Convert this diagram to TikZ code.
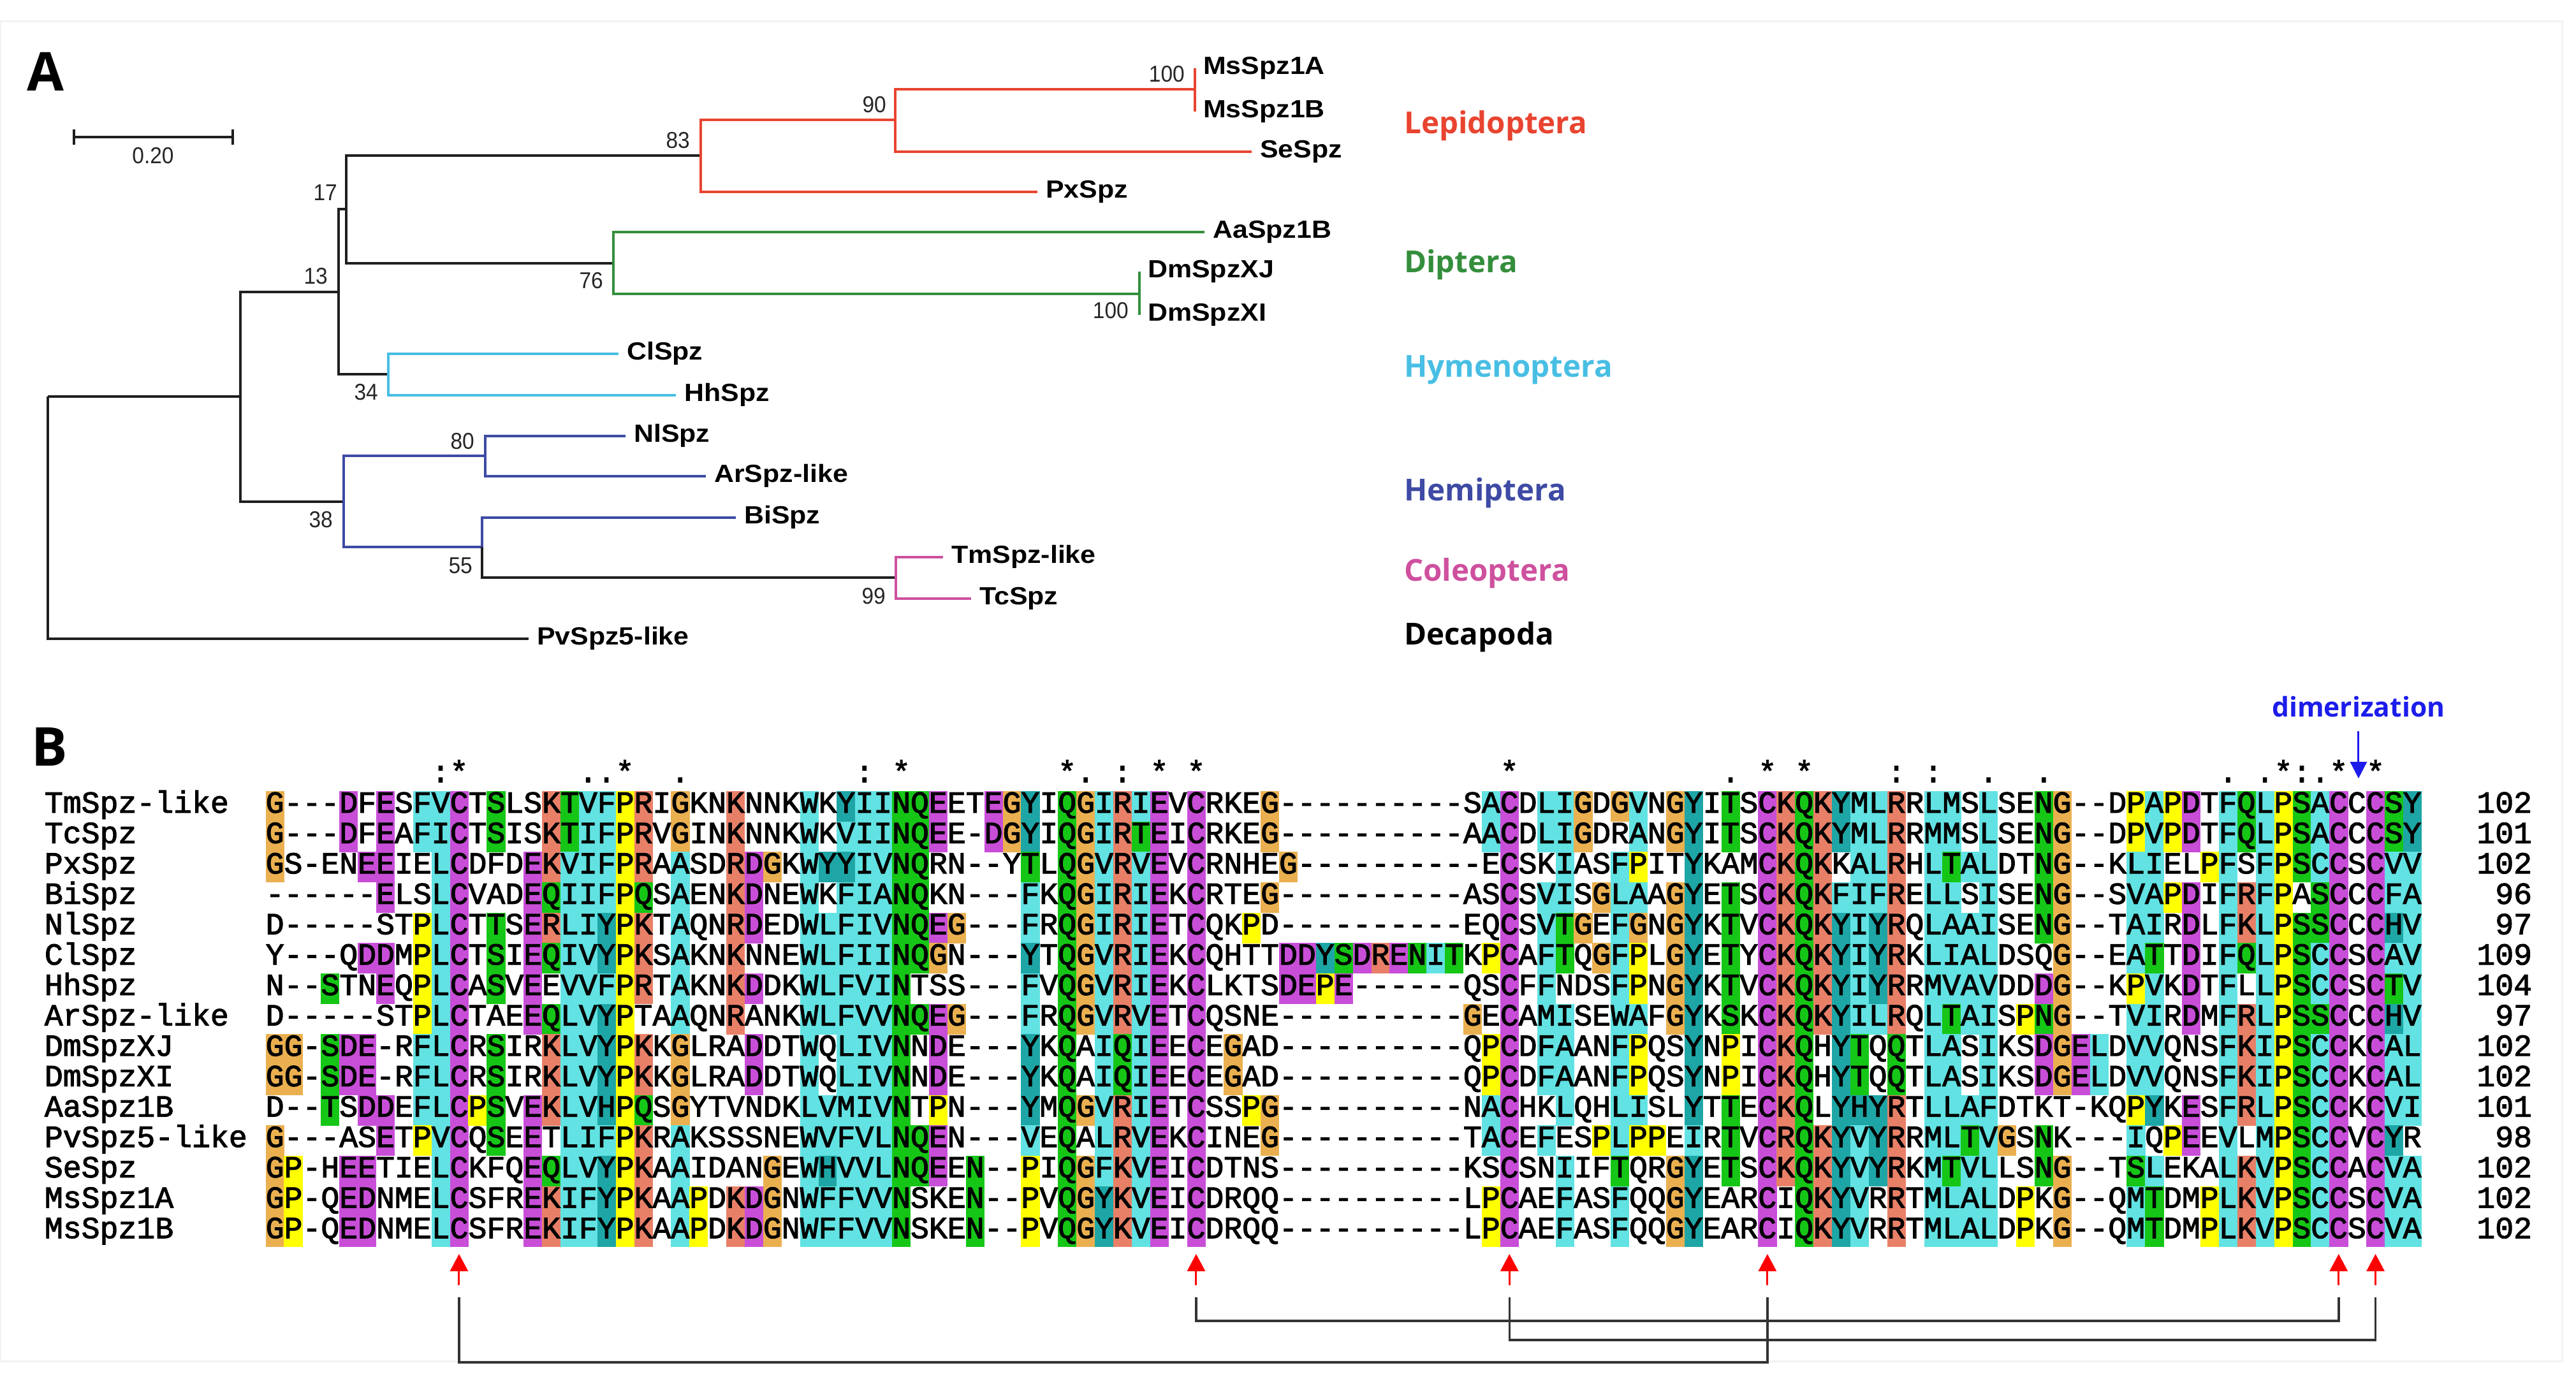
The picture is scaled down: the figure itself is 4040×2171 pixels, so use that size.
\documentclass[tikz,border=0pt]{standalone}
\usepackage{fontspec}
\usetikzlibrary{arrows.meta}
\newfontfamily\alnfont{Liberation Mono}[Ligatures=TeXOff,FakeBold=2.2]
\newfontfamily\leaffont{Liberation Sans}[FakeStretch=1.1]
\newfontfamily\numfont{Liberation Sans}[FakeStretch=0.93]
\newfontfamily\ordfont{Open Sans}

\definecolor{alnblue}{RGB}{98,226,226}
\definecolor{alncyan}{RGB}{30,166,166}
\definecolor{alnred}{RGB}{232,128,104}
\definecolor{alnmag}{RGB}{200,78,216}
\definecolor{alngreen}{RGB}{22,198,22}
\definecolor{alnorange}{RGB}{234,176,80}
\definecolor{alnyellow}{RGB}{255,255,0}
\definecolor{lepc}{RGB}{232,68,48}
\definecolor{dipc}{RGB}{52,142,60}
\definecolor{hymc}{RGB}{72,190,228}
\definecolor{hemc}{RGB}{62,74,164}
\definecolor{colc}{RGB}{206,80,158}
\definecolor{dimblue}{RGB}{28,28,235}

\ExplSyntaxOn
\int_new:N \l__aln_n_int
\tl_new:N \l__aln_ch_tl
\tl_new:N \l__aln_col_tl
\clist_const:Nn \c__aln_letters_clist {A,C,D,E,F,G,H,I,K,L,M,N,P,Q,R,S,T,V,W,Y}
\clist_map_inline:Nn \c__aln_letters_clist { \int_new:c {l__aln_cnt_#1_int} }
\bool_new:N \l__aln_hyd_bool
\bool_new:N \l__aln_cblue_bool
\bool_new:N \l__aln_cpink_bool
\bool_new:N \l__aln_t_bool
\bool_new:N \l__aln_s_bool
\bool_new:N \l__aln_nn_bool
\bool_new:N \l__aln_q_bool
\bool_new:N \l__aln_e_bool
\bool_new:N \l__aln_d_bool
\bool_new:N \l__aln_kr_bool

\tl_const:cn {c__aln_row_1_tl} {G---DFESFVCTSLSKTVFPRIGKNKNNKWKYIINQEETEGYIQGIRIEVCRKEG----------SACDLIGDGVNGYITSCKQKYMLRRLMSLSENG--DPAPDTFQLPSACCCSY}
\tl_const:cn {c__aln_row_2_tl} {G---DFEAFICTSISKTIFPRVGINKNNKWKVIINQEE-DGYIQGIRTEICRKEG----------AACDLIGDRANGYITSCKQKYMLRRMMSLSENG--DPVPDTFQLPSACCCSY}
\tl_const:cn {c__aln_row_3_tl} {GS-ENEEIELCDFDEKVIFPRAASDRDGKWYYIVNQRN--YTLQGVRVEVCRNHEG----------ECSKIASFPITYKAMCKQKKALRHLTALDTNG--KLIELPFSFPSCCSCVV}
\tl_const:cn {c__aln_row_4_tl} {------ELSLCVADEQIIFPQSAENKDNEWKFIANQKN---FKQGIRIEKCRTEG----------ASCSVISGLAAGYETSCKQKFIFRELLSISENG--SVAPDIFRFPASCCCFA}
\tl_const:cn {c__aln_row_5_tl} {D-----STPLCTTSERLIYPKTAQNRDEDWLFIVNQEG---FRQGIRIETCQKPD----------EQCSVTGEFGNGYKTVCKQKYIYRQLAAISENG--TAIRDLFKLPSSCCCHV}
\tl_const:cn {c__aln_row_6_tl} {Y---QDDMPLCTSIEQIVYPKSAKNKNNEWLFIINQGN---YTQGVRIEKCQHTTDDYSDRENITKPCAFTQGFPLGYETYCKQKYIYRKLIALDSQG--EATTDIFQLPSCCSCAV}
\tl_const:cn {c__aln_row_7_tl} {N--STNEQPLCASVEEVVFPRTAKNKDDKWLFVINTSS---FVQGVRIEKCLKTSDEPE------QSCFFNDSFPNGYKTVCKQKYIYRRMVAVDDDG--KPVKDTFLLPSCCSCTV}
\tl_const:cn {c__aln_row_8_tl} {D-----STPLCTAEEQLVYPTAAQNRANKWLFVVNQEG---FRQGVRVETCQSNE----------GECAMISEWAFGYKSKCKQKYILRQLTAISPNG--TVIRDMFRLPSSCCCHV}
\tl_const:cn {c__aln_row_9_tl} {GG-SDE-RFLCRSIRKLVYPKKGLRADDTWQLIVNNDE---YKQAIQIEECEGAD----------QPCDFAANFPQSYNPICKQHYTQQTLASIKSDGELDVVQNSFKIPSCCKCAL}
\tl_const:cn {c__aln_row_10_tl} {GG-SDE-RFLCRSIRKLVYPKKGLRADDTWQLIVNNDE---YKQAIQIEECEGAD----------QPCDFAANFPQSYNPICKQHYTQQTLASIKSDGELDVVQNSFKIPSCCKCAL}
\tl_const:cn {c__aln_row_11_tl} {D--TSDDEFLCPSVEKLVHPQSGYTVNDKLVMIVNTPN---YMQGVRIETCSSPG----------NACHKLQHLISLYTTECKQLYHYRTLLAFDTKT-KQPYKESFRLPSCCKCVI}
\tl_const:cn {c__aln_row_12_tl} {G---ASETPVCQSEETLIFPKRAKSSSNEWVFVLNQEN---VEQALRVEKCINEG----------TACEFESPLPPEIRTVCRQKYVYRRMLTVGSNK---IQPEEVLMPSCCVCYR}
\tl_const:cn {c__aln_row_13_tl} {GP-HEETIELCKFQEQLVYPKAAIDANGEWHVVLNQEEN--PIQGFKVEICDTNS----------KSCSNIIFTQRGYETSCKQKYVYRKMTVLLSNG--TSLEKALKVPSCCACVA}
\tl_const:cn {c__aln_row_14_tl} {GP-QEDNMELCSFREKIFYPKAAPDKDGNWFFVVNSKEN--PVQGYKVEICDRQQ----------LPCAEFASFQQGYEARCIQKYVRRTMLALDPKG--QMTDMPLKVPSCCSCVA}
\tl_const:cn {c__aln_row_15_tl} {GP-QEDNMELCSFREKIFYPKAAPDKDGNWFFVVNSKEN--PVQGYKVEICDRQQ----------LPCAEFASFQQGYEARCIQKYVRRTMLALDPKG--QMTDMPLKVPSCCSCVA}

\cs_new:Npn \AlnRow #1 { \tl_use:c {c__aln_row_#1_tl} }

\cs_new:Npn \__aln_c:n #1 { \int_use:c { l__aln_cnt_#1_int } }
\cs_new:Npn \__aln_g:nn #1#2 { \int_compare_p:n { 100 * ( #1 ) >= #2 * \l__aln_n_int } }
\cs_new:Npn \__aln_x:n #1 { \__aln_g:nn { \__aln_c:n {#1} } {85} }
\cs_new:Npn \__aln_hsum: { \__aln_c:n W + \__aln_c:n L + \__aln_c:n V + \__aln_c:n I + \__aln_c:n M + \__aln_c:n A + \__aln_c:n F + \__aln_c:n C + \__aln_c:n Y + \__aln_c:n H + \__aln_c:n P }
\cs_new_protected:Npn \__aln_if:Nn #1#2 { \bool_if:NT #1 { \tl_set:Nn \l__aln_col_tl {#2} } }

\cs_new_protected:Npn \__aln_column:n #1
 {
  \clist_map_inline:Nn \c__aln_letters_clist { \int_zero:c {l__aln_cnt_##1_int} }
  \int_zero:N \l__aln_n_int
  \int_step_inline:nn {15}
   {
    \tl_set:Nx \l__aln_ch_tl { \tl_item:cn {c__aln_row_##1_tl} {#1} }
    \exp_args:NV \str_if_eq:nnF \l__aln_ch_tl {-}
     {
      \int_incr:c {l__aln_cnt_ \l__aln_ch_tl _int}
      \int_incr:N \l__aln_n_int
     }
   }
  \bool_set:Nn \l__aln_hyd_bool
   { \__aln_g:nn {\__aln_hsum:} {60} || \__aln_x:n A || \__aln_x:n C || \__aln_x:n F || \__aln_x:n H || \__aln_x:n I || \__aln_x:n L || \__aln_x:n M || \__aln_x:n V || \__aln_x:n W || \__aln_x:n Y || \__aln_x:n P || \__aln_g:nn {\__aln_c:n P} {50} }
  \bool_set:Nn \l__aln_cblue_bool
   { \__aln_g:nn {\__aln_hsum:} {60} || \__aln_x:n A || \__aln_x:n S || \__aln_x:n F || \__aln_x:n H || \__aln_x:n I || \__aln_x:n L || \__aln_x:n M || \__aln_x:n V || \__aln_x:n W || \__aln_x:n Y || \__aln_x:n P || \__aln_g:nn {\__aln_c:n P} {50} }
  \bool_set:Nn \l__aln_cpink_bool { \__aln_x:n C }
  \bool_set:Nn \l__aln_t_bool
   { \__aln_g:nn {\__aln_c:n T + \__aln_c:n S} {50} || \__aln_x:n S || \__aln_x:n T || \__aln_g:nn {\__aln_hsum:} {60} }
  \bool_set:Nn \l__aln_s_bool
   { \__aln_g:nn {\__aln_c:n T + \__aln_c:n S} {50} || \__aln_x:n S || \__aln_x:n T || \__aln_g:nn {\__aln_hsum:} {80} }
  \bool_set:Nn \l__aln_nn_bool
   { \__aln_g:nn {\__aln_c:n N} {50} || \__aln_x:n N || \__aln_x:n D }
  \bool_set:Nn \l__aln_q_bool
   { \__aln_g:nn {\__aln_c:n Q + \__aln_c:n E} {50} || \__aln_x:n Q || \__aln_x:n E || \__aln_g:nn {\__aln_c:n K + \__aln_c:n R} {60} || \__aln_x:n K || \__aln_x:n R }
  \bool_set:Nn \l__aln_e_bool
   { \__aln_g:nn {\__aln_c:n E + \__aln_c:n D} {50} || \__aln_x:n D || \__aln_x:n E || \__aln_g:nn {\__aln_c:n Q + \__aln_c:n E} {50} || \__aln_x:n Q }
  \bool_set:Nn \l__aln_d_bool
   { \__aln_g:nn {\__aln_c:n E + \__aln_c:n D} {50} || \__aln_x:n D || \__aln_x:n E || \__aln_g:nn {\__aln_c:n N} {50} || \__aln_x:n N }
  \bool_set:Nn \l__aln_kr_bool
   { \__aln_g:nn {\__aln_c:n K + \__aln_c:n R} {60} || \__aln_x:n K || \__aln_x:n R || \__aln_x:n Q }
  \int_step_inline:nn {15}
   {
    \tl_set:Nx \l__aln_ch_tl { \tl_item:cn {c__aln_row_##1_tl} {#1} }
    \tl_clear:N \l__aln_col_tl
    \exp_args:NV \str_case:nn \l__aln_ch_tl
     {
      {G}{ \tl_set:Nn \l__aln_col_tl {alnorange} }
      {P}{ \tl_set:Nn \l__aln_col_tl {alnyellow} }
      {T}{ \__aln_if:Nn \l__aln_t_bool {alngreen} }
      {S}{ \__aln_if:Nn \l__aln_s_bool {alngreen} }
      {N}{ \__aln_if:Nn \l__aln_nn_bool {alngreen} }
      {Q}{ \__aln_if:Nn \l__aln_q_bool {alngreen} }
      {E}{ \__aln_if:Nn \l__aln_e_bool {alnmag} }
      {D}{ \__aln_if:Nn \l__aln_d_bool {alnmag} }
      {K}{ \__aln_if:Nn \l__aln_kr_bool {alnred} }
      {R}{ \__aln_if:Nn \l__aln_kr_bool {alnred} }
      {H}{ \__aln_if:Nn \l__aln_hyd_bool {alncyan} }
      {Y}{ \__aln_if:Nn \l__aln_hyd_bool {alncyan} }
      {C}{ \bool_if:NTF \l__aln_cpink_bool { \tl_set:Nn \l__aln_col_tl {alnmag} } { \__aln_if:Nn \l__aln_cblue_bool {alnblue} } }
      {W}{ \__aln_if:Nn \l__aln_hyd_bool {alnblue} }
      {L}{ \__aln_if:Nn \l__aln_hyd_bool {alnblue} }
      {V}{ \__aln_if:Nn \l__aln_hyd_bool {alnblue} }
      {I}{ \__aln_if:Nn \l__aln_hyd_bool {alnblue} }
      {M}{ \__aln_if:Nn \l__aln_hyd_bool {alnblue} }
      {A}{ \__aln_if:Nn \l__aln_hyd_bool {alnblue} }
      {F}{ \__aln_if:Nn \l__aln_hyd_bool {alnblue} }
     }
    \tl_if_empty:NF \l__aln_col_tl
     {
      \use:e
       {
        \exp_not:N \fill [ \l__aln_col_tl ]
         ( \fp_eval:n { 416.5 + (#1 - 1) * 28.90 } , \fp_eval:n { 1241 + (##1 - 1) * 47.67 } )
         rectangle ++ ( 29.2 , 47.95 ) ;
       }
     }
   }
 }
\cs_new_protected:Npn \AlnBoxes { \int_step_function:nN {117} \__aln_column:n }
\ExplSyntaxOff

\tikzset{
  seqtxt/.style={inner sep=0pt, font=\alnfont\fontsize{48.16}{58}\selectfont},
  cons/.style={seqtxt, anchor=base},
  tree/.style={line width=4.5pt, black!88},
  leaf/.style={anchor=west, inner xsep=13pt, inner ysep=0pt, text height=19.5pt, text depth=0pt, font=\leaffont\bfseries\fontsize{39}{42}\selectfont},
  boot/.style={anchor=base east, inner sep=0pt, font=\numfont\fontsize{36}{40}\selectfont, text=black!85},
  order/.style={anchor=base west, inner sep=0pt, font=\ordfont\bfseries\fontsize{47.5}{55}\selectfont},
  panel/.style={anchor=base west, inner sep=0pt, font=\ordfont\bfseries\fontsize{84}{90}\selectfont},
  redarr/.style={red, line width=3pt, -{Triangle[width=28pt,length=27pt]}},
  dimarr/.style={dimblue, line width=3pt, -{Triangle[width=26pt,length=26pt]}},
  conn/.style={black!80, line width=3.5pt}
}

\begin{document}
\begin{tikzpicture}[x=1pt,y=-1pt]
\useasboundingbox (0,0) rectangle (4040,2171);
\fill[white] (0,0) rectangle (4040,2171);
\draw[black!5, line width=3pt] (0,33) rectangle (4018,2135);

% ---------------- Panel A ----------------
\node[panel] (pA) at (42,142) {A};
% scale bar
\coordinate (sbl) at (116,215);
\coordinate (sbr) at (365,215);
\draw[tree] (sbl) -- (sbr);
\draw[tree] ([yshift=-12pt]sbl) -- ([yshift=12pt]sbl);
\draw[tree] ([yshift=-12pt]sbr) -- ([yshift=12pt]sbr);
\node[inner sep=0pt, font=\numfont\fontsize{36}{40}\selectfont, text=black!85] (sbt) at (240,244) {0.20};

% internal nodes
\coordinate (root) at (75,622);
\coordinate (nA) at (377,622);
\coordinate (n13) at (531,458);
\coordinate (n17) at (543,328);
\coordinate (n83) at (1099,244);
\coordinate (n90) at (1404,188);
\coordinate (nMs) at (1874,140);
\coordinate (n76) at (962,413);
\coordinate (nDm) at (1787,461);
\coordinate (n34) at (609,587);
\coordinate (n38) at (539,787);
\coordinate (n80) at (761,715);
\coordinate (n55) at (756,858);
\coordinate (n99) at (1405,906);

% leaves
\node[leaf] (MsA) at (1874,107) {MsSpz1A};
\node[leaf] (MsB) at (1874,175) {MsSpz1B};
\node[leaf] (Se) at (1963,238) {SeSpz};
\node[leaf] (Px) at (1627,301) {PxSpz};
\node[leaf] (Aa) at (1889,364) {AaSpz1B};
\node[leaf] (DmJ) at (1787,426) {DmSpzXJ};
\node[leaf] (DmI) at (1787,494) {DmSpzXI};
\node[leaf] (Cl) at (970,555) {ClSpz};
\node[leaf] (Hh) at (1060,620) {HhSpz};
\node[leaf] (Nl) at (981,684) {NlSpz};
\node[leaf] (Ar) at (1107,747) {ArSpz-like};
\node[leaf] (Bi) at (1154,812) {BiSpz};
\node[leaf] (Tm) at (1479,874) {TmSpz-like};
\node[leaf] (Tc) at (1523,939) {TcSpz};
\node[leaf] (Pv) at (829,1002) {PvSpz5-like};

% branches
\draw[tree] (root) |- (nA);
\draw[tree] (root) |- (Pv.west);
\draw[tree] (nA) |- (n13);
\draw[tree] (nA) |- (n38);
\draw[tree] (n13) |- (n17);
\draw[tree] (n13) |- (n34);
\draw[tree] (n17) |- (n83);
\draw[tree] (n17) |- (n76);
\draw[tree, lepc] (n83) |- (n90);
\draw[tree, lepc] (n83) |- (Px.west);
\draw[tree, lepc] (n90) |- (nMs);
\draw[tree, lepc] (n90) |- (Se.west);
\draw[tree, lepc] (nMs) |- (MsA.west);
\draw[tree, lepc] (nMs) |- (MsB.west);
\draw[tree, dipc] (n76) |- (Aa.west);
\draw[tree, dipc] (n76) |- (nDm);
\draw[tree, dipc] (nDm) |- (DmJ.west);
\draw[tree, dipc] (nDm) |- (DmI.west);
\draw[tree, hymc] (n34) |- (Cl.west);
\draw[tree, hymc] (n34) |- (Hh.west);
\draw[tree, hemc] (n38) |- (n80);
\draw[tree, hemc] (n38) |- (n55);
\draw[tree, hemc] (n80) |- (Nl.west);
\draw[tree, hemc] (n80) |- (Ar.west);
\draw[tree, hemc] (n55) |- (Bi.west);
\draw[tree] (n55) |- (n99);
\draw[tree, colc] (n99) |- (Tm.west);
\draw[tree, colc] (n99) |- (Tc.west);

% bootstrap values
\node[boot] (bMs) at (1858,128) {100};
\node[boot] (b90) at (1390,176) {90};
\node[boot] (b83) at (1082,232) {83};
\node[boot] (b17) at (529,314) {17};
\node[boot] (b13) at (514,445) {13};
\node[boot] (b76) at (946,452) {76};
\node[boot] (bDm) at (1770,499) {100};
\node[boot] (b34) at (593,627) {34};
\node[boot] (b80) at (744,704) {80};
\node[boot] (b38) at (522,827) {38};
\node[boot] (b55) at (741,899) {55};
\node[boot] (b99) at (1389,947) {99};

% order labels
\node[order, text=lepc] (oLep) at (2202,209) {Lepidoptera};
\node[order, text=dipc] (oDip) at (2202,427) {Diptera};
\node[order, text=hymc] (oHym) at (2202,591) {Hymenoptera};
\node[order, text=hemc] (oHem) at (2202,785) {Hemiptera};
\node[order, text=colc] (oCol) at (2202,911) {Coleoptera};
\node[order, text=black] (oDec) at (2202,1011) {Decapoda};

% ---------------- Panel B ----------------
\node[panel] (pB) at (49,1201) {B};

\AlnBoxes

\foreach \r/\nm/\len in {1/TmSpz-like/102, 2/TcSpz/101, 3/PxSpz/102, 4/BiSpz/96, 5/NlSpz/97, 6/ClSpz/109, 7/HhSpz/104, 8/ArSpz-like/97, 9/DmSpzXJ/102, 10/DmSpzXI/102, 11/AaSpz1B/101, 12/PvSpz5-like/98, 13/SeSpz/102, 14/MsSpz1A/102, 15/MsSpz1B/102}{
  \pgfmathsetmacro\yb{1241+47.67*(\r-0.5)+10}
  \node[seqtxt, anchor=base west] (name\r) at (69.7,\yb) {\nm};
  \node[seqtxt, anchor=base west] (seq\r) at (416.5,\yb) {\AlnRow{\r}};
  \node[seqtxt, anchor=base east] (len\r) at (3971.2,\yb) {\len};
}

% consensus line
\foreach \c/\s in {10/:,11/*,18/.,19/.,20/*,23/.,33/:,35/*,44/*,45/.,47/:,49/*,51/*,68/*,80/.,82/*,84/*,89/:,91/:,94/.,97/.,107/.,109/.,110/*,111/:,112/.,113/*,115/*}
  \node[cons] (cons\c) at ({416.5+(\c-0.5)*28.90},1227) {\s};

% dimerization marker
\node[anchor=base west, inner sep=0pt, font=\ordfont\bfseries\fontsize{42.5}{50}\selectfont, text=dimblue] (dim) at (3563,1124) {dimerization};
\coordinate (dtop) at (3698.9,1147);
\coordinate (dtip) at (3698.9,1221);
\draw[dimarr] (dtop) -- (dtip);

% disulfide arrows
\foreach \c/\k in {a/11,b/51,c/68,d/82,e/113,f/115}{
  \coordinate (rt\c) at ({416.5+(\k-0.5)*28.90},1967);
  \coordinate (rb\c) at ({416.5+(\k-0.5)*28.90},2016);
  \coordinate (ct\c) at ({416.5+(\k-0.5)*28.90},2035);
  \draw[redarr] (rb\c) -- (rt\c);
}
\draw[conn] (cta) -- ++(0,102) -| (ctd);
\draw[conn] (ctb) -- ++(0,37) -| (cte);
\draw[conn] (ctc) -- ++(0,67) -| (ctf);
\end{tikzpicture}
\end{document}
